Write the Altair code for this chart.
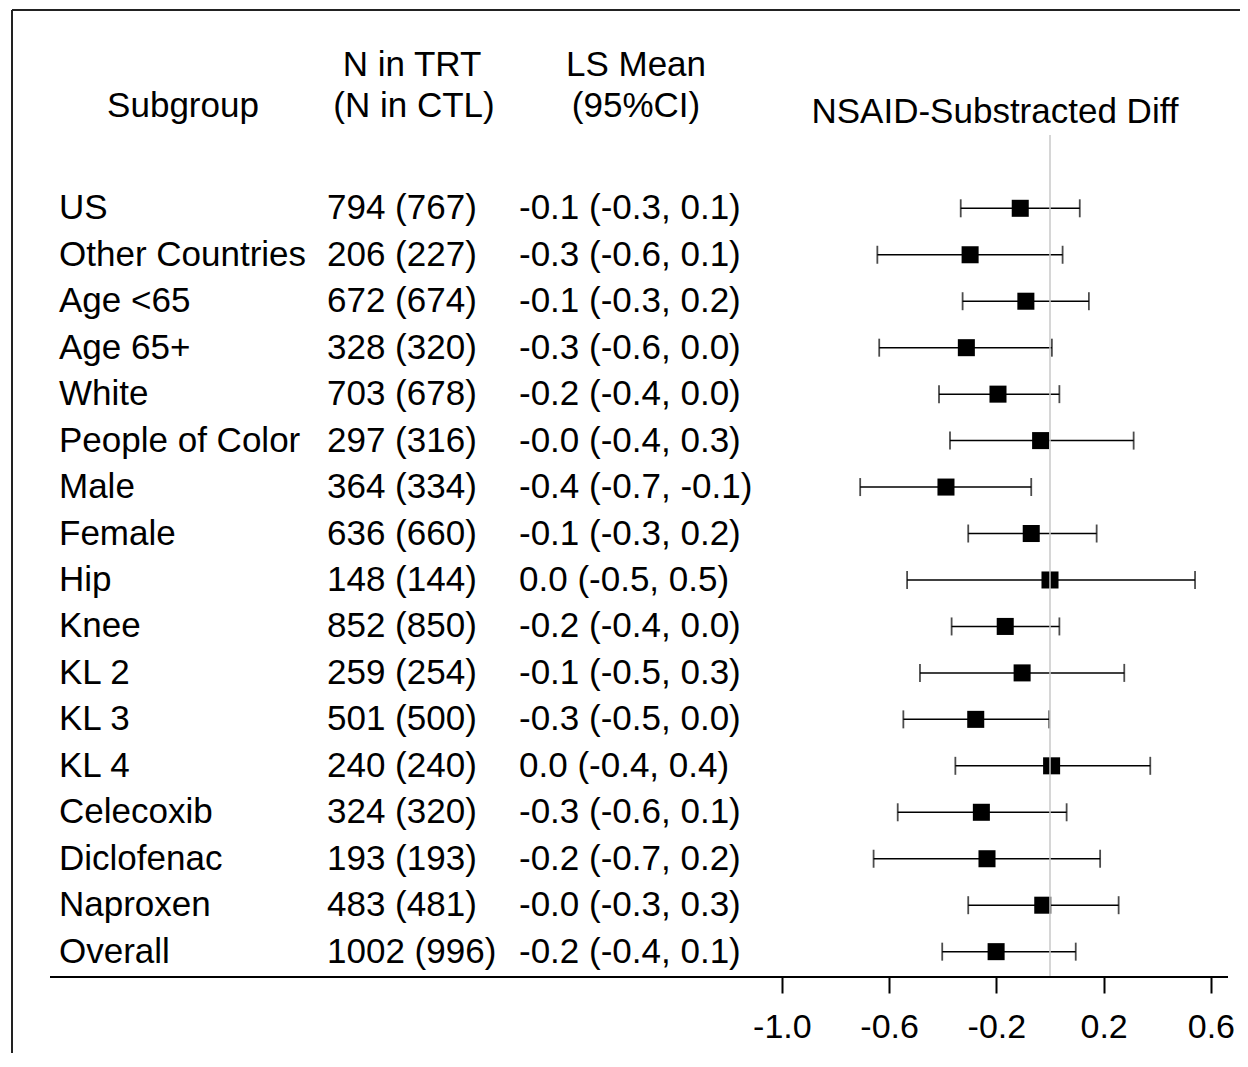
import altair as alt
import pandas as pd

# ---------------- data ----------------
subgroups = ["US", "Other Countries", "Age <65", "Age 65+", "White", "People of Color",
             "Male", "Female", "Hip", "Knee", "KL 2", "KL 3", "KL 4",
             "Celecoxib", "Diclofenac", "Naproxen", "Overall"]
n_text = ["794 (767)", "206 (227)", "672 (674)", "328 (320)", "703 (678)", "297 (316)",
          "364 (334)", "636 (660)", "148 (144)", "852 (850)", "259 (254)", "501 (500)",
          "240 (240)", "324 (320)", "193 (193)", "483 (481)", "1002 (996)"]
ls_text = ["-0.1 (-0.3, 0.1)", "-0.3 (-0.6, 0.1)", "-0.1 (-0.3, 0.2)", "-0.3 (-0.6, 0.0)",
           "-0.2 (-0.4, 0.0)", "-0.0 (-0.4, 0.3)", "-0.4 (-0.7, -0.1)", "-0.1 (-0.3, 0.2)",
           "0.0 (-0.5, 0.5)", "-0.2 (-0.4, 0.0)", "-0.1 (-0.5, 0.3)", "-0.3 (-0.5, 0.0)",
           "0.0 (-0.4, 0.4)", "-0.3 (-0.6, 0.1)", "-0.2 (-0.7, 0.2)", "-0.0 (-0.3, 0.3)",
           "-0.2 (-0.4, 0.1)"]
estimate = [-0.111, -0.298, -0.090, -0.312, -0.194, -0.035, -0.388, -0.070, 0.000,
            -0.167, -0.104, -0.277, 0.006, -0.256, -0.235, -0.027, -0.201]
lower = [-0.333, -0.644, -0.326, -0.637, -0.414, -0.373, -0.708, -0.305, -0.533,
         -0.367, -0.485, -0.547, -0.353, -0.568, -0.658, -0.305, -0.402]
upper = [0.111, 0.047, 0.145, 0.007, 0.035, 0.312, -0.070, 0.174, 0.541,
         0.035, 0.277, -0.003, 0.374, 0.062, 0.187, 0.256, 0.096]
tick_values = [-1.0, -0.6, -0.2, 0.2, 0.6]

df = pd.DataFrame({
    "row": list(range(len(subgroups))),
    "subgroup": subgroups,
    "n": n_text,
    "ls": ls_text,
    "est": estimate,
    "lo": lower,
    "hi": upper,
})

# ---------------- layout ----------------
W, H = 1232, 969
FONT = "Liberation Sans"
FS = 35
px_per_unit = 268.1
zero_px = 1042.0
x_dom = [(0 - zero_px) / px_per_unit, (W - zero_px) / px_per_unit]
row0_px, row_step = 200.3, 46.46
y_dom = [(H - row0_px) / row_step, (0 - row0_px) / row_step]

xs = alt.Scale(domain=x_dom, nice=False, zero=False)
ys = alt.Scale(domain=y_dom, nice=False, zero=False)

base = alt.Chart(df)
Y = alt.Y("row:Q", scale=ys, axis=None)

ci = base.mark_rule(color="black", strokeWidth=1.5).encode(
    x=alt.X("lo:Q", scale=xs,
            axis=alt.Axis(values=tick_values, format=".1f", title=None, domain=False,
                          grid=False, tickSize=16, tickWidth=2, tickColor="black",
                          labelFont=FONT, labelFontSize=34, labelColor="black",
                          labelExpr="replace(datum.label, '\u2212', '-')",
                          labelPadding=17, labelFlush=False, labelOverlap=False)),
    x2="hi:Q", y=Y)
cap_lo = base.mark_tick(orient="vertical", color="black", size=18, thickness=1.8).encode(
    x=alt.X("lo:Q", scale=xs), y=Y)
cap_hi = base.mark_tick(orient="vertical", color="black", size=18, thickness=1.8).encode(
    x=alt.X("hi:Q", scale=xs), y=Y)
pts = base.mark_square(color="black", size=290, opacity=1).encode(
    x=alt.X("est:Q", scale=xs), y=Y)

ref = alt.Chart(pd.DataFrame({"z": [0.0]})).mark_rule(color="#c8c8c8", strokeWidth=1.5).encode(
    x=alt.X("z:Q", scale=xs), y=alt.value(127), y2=alt.value(H))

txt_kw = dict(font=FONT, fontSize=FS, color="black", baseline="middle")
col_sub = base.mark_text(align="left", **txt_kw).encode(x=alt.value(51), y=Y, text="subgroup:N")
col_n = base.mark_text(align="left", **txt_kw).encode(x=alt.value(319), y=Y, text="n:N")
col_ls = base.mark_text(align="left", **txt_kw).encode(x=alt.value(511), y=Y, text="ls:N")

hdr = pd.DataFrame({
    "label": ["Subgroup", "N in TRT", "(N in CTL)", "LS Mean", "(95%CI)", "NSAID-Substracted Diff"],
    "px": [175, 404, 406, 628, 628, 987],
    "py": [98, 57, 98, 57, 98, 104],
})
headers = alt.Chart(hdr).mark_text(align="center", **txt_kw).encode(
    x=alt.X("px:Q", scale=None), y=alt.Y("py:Q", scale=None), text="label:N")

axis_line = alt.Chart(pd.DataFrame({"a": [0]})).mark_rule(color="black", strokeWidth=2).encode(
    x=alt.value(42), x2=alt.value(1220), y=alt.value(H))
frame_top = alt.Chart(pd.DataFrame({"a": [0]})).mark_rule(color="#222222", strokeWidth=2).encode(
    x=alt.value(4), x2=alt.value(W), y=alt.value(2))
frame_left = alt.Chart(pd.DataFrame({"a": [0]})).mark_rule(color="#222222", strokeWidth=2).encode(
    x=alt.value(4), y=alt.value(2), y2=alt.value(H + 80))

chart = alt.layer(
    frame_top, frame_left, headers, col_sub, col_n, col_ls,
    ci, cap_lo, cap_hi, pts, ref, axis_line
).properties(
    width=W, height=H,
    autosize=alt.AutoSizeParams(type="none"),
    padding={"left": 0, "top": 0, "right": 0, "bottom": 76},
    background="white",
).configure_view(stroke=None)

chart.save("out.html", embed_options={"renderer": "svg", "actions": False})
